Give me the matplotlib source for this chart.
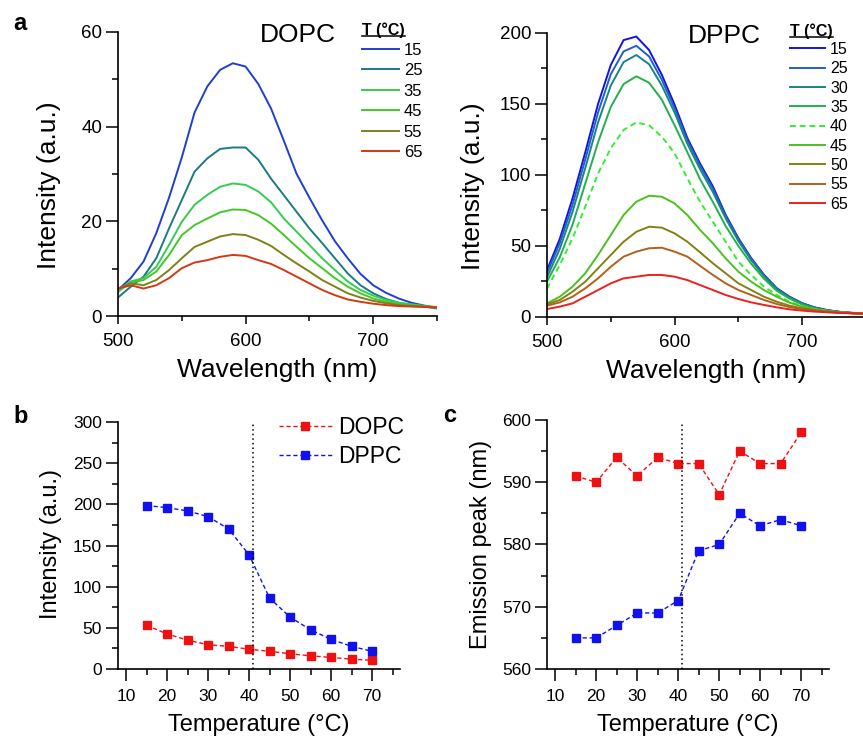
import matplotlib
matplotlib.use("Agg")
import matplotlib.pyplot as plt
from matplotlib.lines import Line2D
from matplotlib.ticker import MultipleLocator

plt.rcParams['font.family'] = ['Liberation Sans', 'DejaVu Sans']

# longitudes de onda (nm) de los espectros
wl = [500, 510, 520, 530, 540, 550, 560, 570, 580, 590, 600, 610, 620,
      630, 640, 650, 660, 670, 680, 690, 700, 710, 720, 730, 740, 750]

# espectros DOPC (intensidad, u.a.)
dopc_15 = [5.5, 8.0, 11.5, 17.5, 25.0, 33.5, 43.0, 48.5, 52.0, 53.4, 52.7, 49.0, 43.8,
           37.0, 30.0, 25.0, 20.2, 15.8, 12.2, 8.9, 6.5, 4.9, 3.7, 2.8, 2.2, 1.7]
dopc_25 = [3.9, 6.2, 8.3, 12.2, 18.5, 24.5, 30.5, 33.3, 35.3, 35.6, 35.6, 33.0, 29.0,
           25.5, 22.0, 18.5, 15.4, 12.2, 9.0, 6.5, 4.8, 3.6, 2.8, 2.3, 2.0, 1.6]
dopc_35 = [5.5, 7.3, 8.0, 10.4, 15.0, 19.9, 23.5, 25.6, 27.3, 28.0, 27.7, 26.3, 24.0,
           20.6, 17.8, 15.0, 12.2, 9.7, 7.3, 5.5, 4.3, 3.4, 2.8, 2.5, 2.1, 1.8]
dopc_45 = [5.1, 7.1, 7.6, 9.4, 12.9, 17.1, 19.2, 20.6, 21.9, 22.5, 22.4, 21.3, 19.5,
           17.1, 14.6, 12.2, 10.1, 8.0, 6.2, 4.8, 3.7, 3.0, 2.5, 2.3, 2.1, 1.9]
dopc_55 = [5.8, 6.9, 6.5, 7.6, 9.7, 12.2, 14.6, 15.7, 16.8, 17.3, 17.1, 16.1, 14.8,
           12.9, 11.1, 9.4, 7.6, 6.2, 4.8, 3.9, 3.2, 2.7, 2.3, 2.1, 2.0, 1.8]
dopc_65 = [5.8, 6.5, 5.8, 6.5, 8.0, 10.1, 11.3, 11.8, 12.5, 12.9, 12.7, 11.8, 11.0,
           9.7, 8.3, 6.9, 5.5, 4.4, 3.5, 3.0, 2.6, 2.3, 2.1, 2.0, 1.9, 1.8]

# espectros DPPC
dppc_15 = [33, 55, 83.5, 116, 150, 177.5, 195, 197.5, 188, 170.5, 149.5, 126, 108,
           92, 72, 55.5, 41.5, 29.8, 20.3, 14.3, 9.7, 6.7, 4.8, 3.6, 2.9, 2.4]
dppc_25 = [31, 52, 79, 111, 144, 171, 187, 191, 183.5, 167, 147, 124.5, 106.5,
           90.5, 71, 55, 41, 29.5, 20.1, 14.1, 9.6, 6.6, 4.7, 3.5, 2.8, 2.3]
dppc_30 = [28, 48, 74, 105, 137, 163, 179.5, 184.5, 178, 163, 144, 122, 104,
           88, 69.5, 53.5, 40, 28.8, 19.6, 13.7, 9.3, 6.4, 4.6, 3.4, 2.7, 2.2]
dppc_35 = [25, 42, 65, 94, 123, 148, 164, 169.5, 165, 153, 135, 116, 97,
           81, 64, 50, 37.5, 27, 18.5, 13, 8.8, 6.0, 4.3, 3.2, 2.5, 2.0]
dppc_40 = [20, 36.6, 55.4, 77.7, 101, 118.8, 131.7, 137, 135, 127, 115.3, 97.7, 81,
           67, 53, 39, 29.6, 21.4, 15.5, 10.8, 7.7, 5.6, 4.2, 3.3, 2.8, 2.3]
dppc_45 = [9.6, 14.3, 21.4, 30.8, 43.7, 57.7, 71.8, 81.2, 85.4, 84.7, 80, 71.8, 61.3,
           51.9, 41.3, 31.9, 24.9, 19, 14.3, 10.1, 7.3, 5.4, 4.2, 3.3, 2.8, 2.3]
dppc_50 = [8.9, 12, 17.8, 24.9, 34.3, 43.7, 53, 60, 63.6, 62.9, 58.9, 53, 45.5,
           37.8, 30.8, 23.7, 19, 14.3, 10.8, 8, 6.1, 4.7, 3.8, 3.1, 2.6, 2.3]
dppc_55 = [8, 10.3, 14.3, 20.2, 27.2, 35.4, 42.5, 46, 48.4, 48.8, 46, 42.5, 36,
           29.6, 23.7, 19, 15.5, 12, 9.2, 7, 5.6, 4.5, 3.5, 3.1, 2.6, 2.3]
dppc_65 = [5.6, 7.3, 9.6, 14.3, 19, 23.7, 27.2, 28.4, 29.6, 29.6, 28.4, 26, 22.5,
           19, 15.5, 12.7, 10.3, 8.5, 6.8, 5.4, 4.5, 3.8, 3.3, 2.8, 2.6, 2.3]

dopc_labels = ["15", "25", "35", "45", "55", "65"]
dppc_labels = ["15", "25", "30", "35", "40", "45", "50", "55", "65"]

# temperatura vs intensidad / pico de emision
temps = [15, 20, 25, 30, 35, 40, 45, 50, 55, 60, 65, 70]
int_dopc = [53, 42.5, 35, 29.5, 27.5, 24, 21.5, 18.5, 16, 14, 12, 10.5]
int_dppc = [198.5, 196, 192, 185, 170, 138.5, 86, 63, 47.5, 36, 27.5, 21.5]
pico_dopc = [591, 590, 594, 591, 594, 593, 593, 588, 595, 593, 593, 598]
pico_dppc = [565, 565, 567, 569, 569, 571, 579, 580, 585, 583, 584, 583]
t_trans = 41

col_dopc = ["#1f3fd2", "#1c7a82", "#33cc55", "#44c828", "#80801a", "#d03a14"]
col_dppc = ["#1414e0", "#2060c8", "#1a8484", "#22b04c", "#33ee33", "#4cc020",
            "#828214", "#b2601c", "#ec2020"]
estilos_dppc = ["-", "-", "-", "-", (0, (3, 2)), "-", "-", "-", "-"]
rojo = "#ee1111"
azul = "#1111ee"

fig = plt.figure(figsize=(8.63, 7.40), dpi=100)
W, H = 863.0, 740.0


def ejes(x0, y0, x1, y1):
    # coordenadas en pixeles (origen arriba a la izquierda)
    ax = fig.add_axes([x0 / W, 1 - y1 / H, (x1 - x0) / W, (y1 - y0) / H])
    ax.spines['top'].set_visible(False)
    ax.spines['right'].set_visible(False)
    for s in ['left', 'bottom']:
        ax.spines[s].set_linewidth(1.2)
    return ax


def estilo_ticks(ax, size):
    ax.tick_params(axis='y', which='major', direction='out', length=8.5, width=1.1,
                   labelsize=size, pad=3)
    ax.tick_params(axis='y', which='minor', direction='out', length=4.5, width=1.1)
    ax.tick_params(axis='x', which='major', direction='out', length=6, width=1.1,
                   labelsize=size, pad=6)
    ax.tick_params(axis='x', which='minor', direction='out', length=3.5, width=1.1)


titulos = []


def leyenda_espectros(ax, handles, labels, x, y, titulo_y, fs, esp):
    ax.legend(handles, labels, loc='upper left', bbox_to_anchor=(x, y), frameon=False,
              fontsize=fs, handlelength=2.2, handletextpad=0.3, labelspacing=esp,
              borderpad=0, borderaxespad=0)
    t = ax.text(x, titulo_y, "T (°C)", transform=ax.transAxes, fontsize=11.5,
                fontweight='bold', ha='left', va='center')
    titulos.append(t)


# ---- a: DOPC
ax1 = ejes(118, 32, 437, 316)
dopc = [dopc_15, dopc_25, dopc_35, dopc_45, dopc_55, dopc_65]
hs = []
for serie, c in zip(dopc, col_dopc):
    h, = ax1.plot(wl, serie, color=c, lw=1.4)
    hs.append(h)
ax1.set_xlim(500, 750)
ax1.set_ylim(0, 60)
ax1.xaxis.set_major_locator(MultipleLocator(100))
ax1.xaxis.set_minor_locator(MultipleLocator(50))
ax1.yaxis.set_major_locator(MultipleLocator(20))
ax1.yaxis.set_minor_locator(MultipleLocator(10))
estilo_ticks(ax1, 13.5)
ax1.set_xlabel("Wavelength (nm)", fontsize=19)
ax1.set_ylabel("Intensity (a.u.)", fontsize=19)
ax1.xaxis.set_label_coords(0.5, -0.148)
ax1.yaxis.set_label_coords(-0.179, 0.46)
ax1.text(0.445, 0.99, "DOPC", transform=ax1.transAxes, fontsize=19, va='center', ha='left')
leyenda_espectros(ax1, hs, dopc_labels, 0.765, 0.963, 1.007, 12, 0.33)

# ---- a: DPPC
ax2 = ejes(547, 33, 866, 317)
dppc = [dppc_15, dppc_25, dppc_30, dppc_35, dppc_40, dppc_45, dppc_50, dppc_55, dppc_65]
hs = []
for serie, c, ls in zip(dppc, col_dppc, estilos_dppc):
    h, = ax2.plot(wl, serie, color=c, lw=1.4, linestyle=ls)
    hs.append(h)
ax2.set_xlim(500, 750)
ax2.set_ylim(0, 200)
ax2.xaxis.set_major_locator(MultipleLocator(100))
ax2.xaxis.set_minor_locator(MultipleLocator(50))
ax2.yaxis.set_major_locator(MultipleLocator(50))
ax2.yaxis.set_minor_locator(MultipleLocator(25))
estilo_ticks(ax2, 13.5)
ax2.set_xlabel("Wavelength (nm)", fontsize=19)
ax2.set_ylabel("Intensity (a.u.)", fontsize=19)
ax2.xaxis.set_label_coords(0.5, -0.148)
ax2.yaxis.set_label_coords(-0.194, 0.46)
ax2.text(0.442, 0.99, "DPPC", transform=ax2.transAxes, fontsize=19, va='center', ha='left')
leyenda_espectros(ax2, hs, dppc_labels, 0.762, 0.968, 1.005, 11.5, 0.27)

# ---- b: intensidad vs temperatura
ax3 = ejes(118, 422, 400, 669)
dash = (0, (3, 2))
ax3.plot(temps, int_dopc, color=rojo, lw=1, linestyle=dash, marker='s', ms=5.5,
         mec=rojo, label="DOPC")
ax3.plot(temps, int_dppc, color=azul, lw=1, linestyle=dash, marker='s', ms=5.5,
         mec=azul, label="DPPC")
ax3.axvline(t_trans, ymax=0.992, color='black', lw=1.1, linestyle=(0, (1, 2)))
ax3.set_xlim(8, 76.8)
ax3.set_ylim(0, 300)
ax3.xaxis.set_major_locator(MultipleLocator(10))
ax3.xaxis.set_minor_locator(MultipleLocator(5))
ax3.yaxis.set_major_locator(MultipleLocator(50))
ax3.yaxis.set_minor_locator(MultipleLocator(25))
estilo_ticks(ax3, 12.5)
ax3.tick_params(axis='x', which='major', length=8.5)
ax3.tick_params(axis='x', which='minor', length=4)
ax3.set_xlabel("Temperature (°C)", fontsize=17)
ax3.set_ylabel("Intensity (a.u.)", fontsize=17)
ax3.xaxis.set_label_coords(0.5, -0.182)
ax3.yaxis.set_label_coords(-0.199, 0.506)
ax3.legend(loc='upper left', bbox_to_anchor=(0.571, 1.025), frameon=False, fontsize=16.5,
           handlelength=2.3, handletextpad=0.3, labelspacing=0.28, borderpad=0,
           borderaxespad=0, numpoints=1)

# ---- c: pico de emision vs temperatura
ax4 = ejes(547, 420, 829, 669)
ax4.plot(temps, pico_dopc, color=rojo, lw=1, linestyle=dash, marker='s', ms=5.5, mec=rojo)
ax4.plot(temps, pico_dppc, color=azul, lw=1, linestyle=dash, marker='s', ms=5.5, mec=azul)
ax4.axvline(t_trans, ymax=0.985, color='black', lw=1.1, linestyle=(0, (1, 2)))
ax4.set_xlim(8, 76.8)
ax4.set_ylim(560, 600)
ax4.xaxis.set_major_locator(MultipleLocator(10))
ax4.xaxis.set_minor_locator(MultipleLocator(5))
ax4.yaxis.set_major_locator(MultipleLocator(10))
ax4.yaxis.set_minor_locator(MultipleLocator(5))
estilo_ticks(ax4, 12.5)
ax4.tick_params(axis='x', which='major', length=8.5)
ax4.tick_params(axis='x', which='minor', length=4)
ax4.set_xlabel("Temperature (°C)", fontsize=17)
ax4.set_ylabel("Emission peak (nm)", fontsize=17)
ax4.xaxis.set_label_coords(0.5, -0.182)
ax4.yaxis.set_label_coords(-0.195, 0.50)

# letras de panel
fig.text(13 / W, 1 - 30 / H, "a", fontsize=17, fontweight='bold', va='baseline')
fig.text(13 / W, 1 - 423 / H, "b", fontsize=17, fontweight='bold', va='baseline')
fig.text(443 / W, 1 - 422 / H, "c", fontsize=17, fontweight='bold', va='baseline')

# subrayado de los titulos de leyenda
fig.canvas.draw()
r = fig.canvas.get_renderer()
for t in titulos:
    bb = t.get_window_extent(r)
    yl = (bb.y0 + 2) / H
    fig.add_artist(Line2D([bb.x0 / W, bb.x1 / W], [yl, yl], color='black', lw=1.1,
                          transform=fig.transFigure))

fig.savefig("out.png", dpi=100)
